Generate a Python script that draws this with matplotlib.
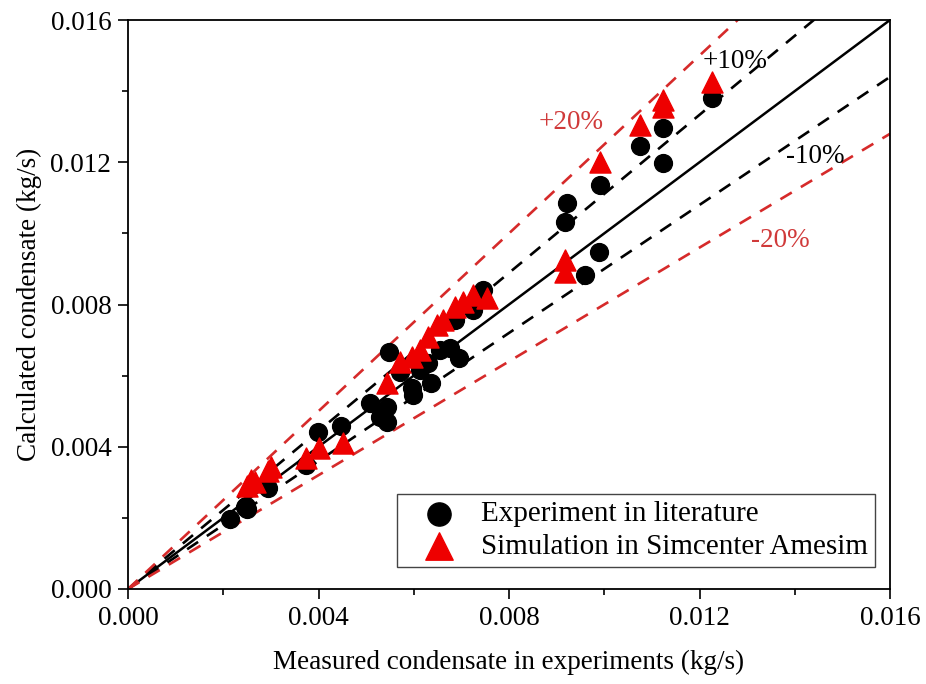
import matplotlib
matplotlib.use("Agg")
import matplotlib.pyplot as plt
import numpy as np
from matplotlib.ticker import MultipleLocator, FormatStrFormatter

plt.rcParams['font.family'] = ['Liberation Serif', 'DejaVu Serif']

# Experiment in literature (measured, calculated)
exp_x = [0.00214, 0.00248, 0.00250, 0.00246, 0.00294, 0.00374, 0.00399, 0.00448,
         0.00508, 0.00529, 0.00543, 0.00543, 0.00549, 0.00571, 0.00596, 0.00599,
         0.00613, 0.00630, 0.00637, 0.00655, 0.00676, 0.00694, 0.00687, 0.00725,
         0.00746, 0.00918, 0.00921, 0.00991, 0.01075, 0.01124, 0.01124, 0.01226,
         0.00988, 0.00960]
exp_y = [0.00197, 0.00234, 0.00226, 0.00230, 0.00284, 0.00349, 0.00442, 0.00459,
         0.00522, 0.00485, 0.00513, 0.00471, 0.00667, 0.00611, 0.00564, 0.00546,
         0.00616, 0.00635, 0.00578, 0.00672, 0.00677, 0.00649, 0.00756, 0.00785,
         0.00841, 0.01033, 0.01085, 0.01136, 0.01246, 0.01296, 0.01197, 0.01380,
         0.00949, 0.00883]

# Simulation in Simcenter Amesim (measured, calculated)
sim_x = [0.00250, 0.00259, 0.00266, 0.00294, 0.00300, 0.00374, 0.00402, 0.00451,
         0.00543, 0.00571, 0.00596, 0.00613, 0.00630, 0.00648, 0.00662, 0.00687,
         0.00704, 0.00725, 0.00753, 0.00918, 0.00918, 0.00991, 0.01075, 0.01124,
         0.01124, 0.01226]
sim_y = [0.00290, 0.00307, 0.00300, 0.00333, 0.00344, 0.00368, 0.00396, 0.00410,
         0.00578, 0.00639, 0.00653, 0.00672, 0.00710, 0.00742, 0.00756, 0.00794,
         0.00808, 0.00827, 0.00817, 0.00925, 0.00892, 0.01202, 0.01305, 0.01375,
         0.01356, 0.01427]

ref_factors = [1/0.9, 0.9]      # +10% / -10%
band_factors = [1/0.8, 0.8]     # +20% / -20%
line_x = [0.0, 0.016]

tick_vals = [0.0, 0.004, 0.008, 0.012, 0.016]

red = '#D62A2A'
red_text = '#D03A3A'
FS = 19.5

fig = plt.figure(figsize=(9.26, 6.84), dpi=100)
ax = fig.add_axes([128/926, 1-589/684, 762/926, 569/684])

lx = np.array(line_x)
ax.plot(lx, lx, color='black', lw=1.8, zorder=2)
for f in ref_factors:
    ax.plot(lx, f*lx, color='black', lw=1.9, ls=(0, (5, 4)), zorder=2)
for f in band_factors:
    ax.plot(lx, f*lx, color=red, lw=1.9, ls=(0, (5, 4)), zorder=2)

ax.scatter(exp_x, exp_y, s=165, marker='o', color='black', zorder=3,
           label='Experiment in literature')
ax.scatter(sim_x, sim_y, s=230, marker='^', color='#EE0000', zorder=4,
           label='Simulation in Simcenter Amesim')

ax.text(0.01275, 0.01482, '+10%', fontsize=FS, color='black', ha='center', va='center')
ax.text(0.00930, 0.01313, '+20%', fontsize=FS, color=red_text, ha='center', va='center')
ax.text(0.01443, 0.01215, '-10%', fontsize=FS, color='black', ha='center', va='center')
ax.text(0.01369, 0.00979, '-20%', fontsize=FS, color=red_text, ha='center', va='center')

ax.set_xlim(0, 0.016)
ax.set_ylim(0, 0.016)
ax.set_xticks(tick_vals)
ax.set_yticks(tick_vals)
ax.xaxis.set_minor_locator(MultipleLocator(0.002))
ax.yaxis.set_minor_locator(MultipleLocator(0.002))
ax.xaxis.set_major_formatter(FormatStrFormatter('%.3f'))
ax.yaxis.set_major_formatter(FormatStrFormatter('%.3f'))
ax.tick_params(which='both', direction='out', top=False, right=False, width=1.2,
               labelsize=FS, colors='black')
ax.tick_params(which='major', length=7, pad=5)
ax.tick_params(which='minor', length=4)
for sp in ax.spines.values():
    sp.set_linewidth(1.3)

ax.set_xlabel('Measured condensate in experiments (kg/s)', fontsize=FS, labelpad=14)
ax.set_ylabel('Calculated condensate (kg/s)', fontsize=FS, labelpad=6)

leg = ax.legend(loc='lower right', bbox_to_anchor=(0.980, 0.0387), borderaxespad=0,
                fontsize=21, frameon=True, fancybox=False, edgecolor='#444444',
                framealpha=1, handletextpad=0.22, borderpad=0.25, labelspacing=0.2,
                handlelength=2.4, markerscale=1.3)
leg.get_frame().set_linewidth(1.0)

fig.savefig('out.png', dpi=100)
